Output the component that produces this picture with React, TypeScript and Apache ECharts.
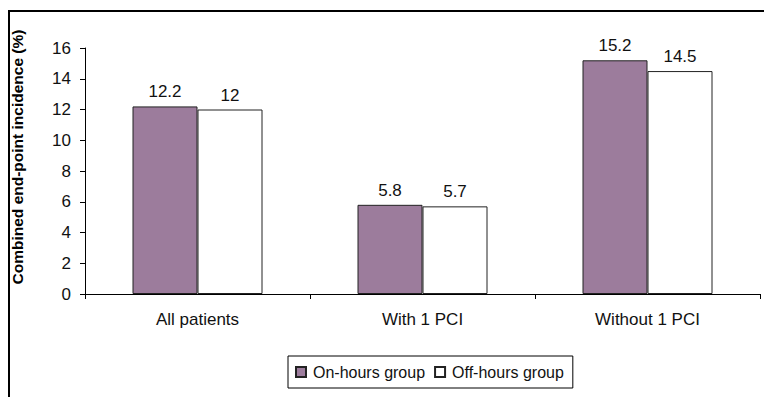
import React, { useEffect, useRef } from "react";
import * as echarts from "echarts";

const categories = ["All patients", "With 1 PCI", "Without 1 PCI"];
const onHours = [12.2, 5.8, 15.2];
const offHours = [12, 5.7, 14.5];
const seriesNames = ["On-hours group", "Off-hours group"];
const yAxisTitle = "Combined end-point incidence (%)";

const FONT = "Arial, 'Liberation Sans', sans-serif";

export default function App() {
  const ref = useRef<HTMLDivElement>(null);
  useEffect(() => {
    if (!ref.current) return;
    const chart = echarts.init(ref.current, null, { renderer: "svg" });
    const labelStyle = {
      show: true,
      position: "top" as const,
      distance: 6,
      fontFamily: FONT,
      fontSize: 17,
      color: "#111",
    };
    chart.setOption({
      animation: false,
      backgroundColor: "#ffffff",
      grid: { left: 85, right: 4, top: 48, bottom: 103, containLabel: false },
      graphic: [
        {
          type: "rect",
          shape: { x: 9, y: 11, width: 820, height: 420 },
          style: { fill: "none", stroke: "#000", lineWidth: 2 },
          silent: true,
        },
        {
          type: "text",
          x: 17,
          y: 157,
          rotation: Math.PI / 2,
          style: {
            text: yAxisTitle,
            fontFamily: FONT,
            fontSize: 15.5,
            fontWeight: "bold",
            fill: "#000",
            align: "center",
            verticalAlign: "middle",
          },
        },
      ],
      legend: {
        data: seriesNames,
        left: 288,
        top: 356,
        padding: [8, 9, 8, 7],
        itemWidth: 10,
        itemHeight: 10,
        itemGap: 9,
        borderColor: "#000",
        borderWidth: 1,
        icon: "rect",
        textStyle: { fontFamily: FONT, fontSize: 16, color: "#111", padding: [0, 0, 0, 2] },
      },
      xAxis: {
        type: "category",
        data: categories,
        axisLine: { show: true, lineStyle: { color: "#000", width: 1 } },
        axisTick: { show: true, length: 5, lineStyle: { color: "#000" } },
        axisLabel: { fontFamily: FONT, fontSize: 17, color: "#111", margin: 17 },
      },
      yAxis: {
        type: "value",
        min: 0,
        max: 16,
        interval: 2,
        axisLine: { show: true, lineStyle: { color: "#000", width: 1 } },
        axisTick: { show: true, length: 5, lineStyle: { color: "#000" } },
        splitLine: { show: false },
        axisLabel: { fontFamily: FONT, fontSize: 17, color: "#111", margin: 14 },
      },
      series: [
        {
          name: seriesNames[0],
          type: "bar",
          data: onHours,
          barWidth: 65,
          barGap: "0%",
          itemStyle: { color: "#9c7c9c", borderColor: "#222", borderWidth: 1 },
          label: labelStyle,
        },
        {
          name: seriesNames[1],
          type: "bar",
          data: offHours,
          barWidth: 65,
          barGap: "0%",
          itemStyle: { color: "#ffffff", borderColor: "#222", borderWidth: 1 },
          label: labelStyle,
        },
      ],
    });
    return () => chart.dispose();
  }, []);
  return (
    <div
      ref={ref}
      style={{ position: "absolute", left: 0, top: 0, width: 764, height: 397 }}
    />
  );
}
